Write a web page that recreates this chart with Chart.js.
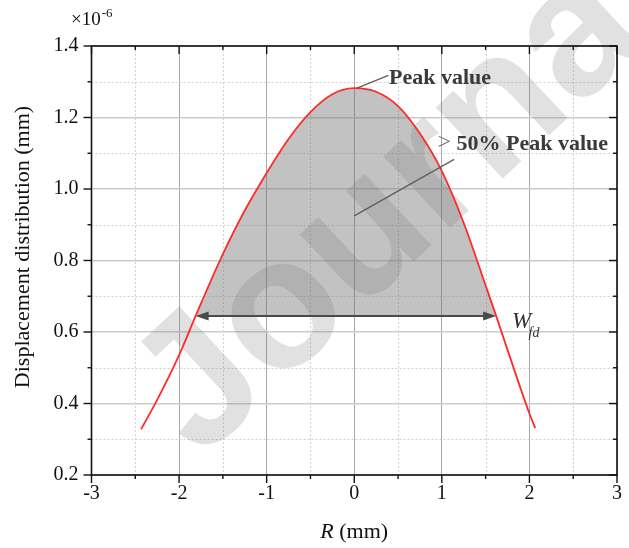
<!DOCTYPE html>
<html><head><meta charset="utf-8">
<script src="https://cdn.jsdelivr.net/npm/chart.js@4.4.0/dist/chart.umd.min.js"></script>
<style>html,body{margin:0;padding:0;background:#fff}#wrap{width:629px;height:548px;position:relative}</style>
</head><body><div id="wrap"><canvas id="c" width="629" height="548"></canvas></div>
<script>
// ---- data ----
const rValues      = [-2.434, -2.25, -2.0, -1.811, -1.75, -1.5, -1.25, -1.0, -0.75, -0.5, -0.25, 0.0, 0.25, 0.5, 0.75, 1.0, 1.25, 1.5, 1.62, 1.75, 2.0, 2.066];
const displacement = [0.328, 0.41, 0.535, 0.645, 0.68, 0.818, 0.94, 1.045, 1.14, 1.215, 1.265, 1.282, 1.272, 1.232, 1.155, 1.05, 0.905, 0.73, 0.645, 0.55, 0.372, 0.331];
const xTickLabels = [-3, -2, -1, 0, 1, 2, 3];
const yTickLabels = [0.2, 0.4, 0.6, 0.8, 1.0, 1.2, 1.4];
const peakR = 0.0, peakValue = 1.282;
const halfLevel = 0.645;
const halfLeftR = -1.811, halfRightR = 1.62;
const peakText = 'Peak value';
const halfText = '50% Peak value';
const widthText = 'W', widthSub = 'fd';
const xTitleItalic = 'R', xTitleRest = ' (mm)';
const yTitle = 'Displacement distribution (mm)';
const yUnitBase = '×10', yUnitExp = '-6';
const watermarkText = 'Journal Pre-proof';

const curve = rValues.map((r, i) => ({x: r, y: displacement[i]}));
const shaded = curve.filter(p => p.x >= halfLeftR - 1e-9 && p.x <= halfRightR + 1e-9);

const SERIF = '"Liberation Serif", "Times New Roman", serif';
const isMajorX = v => Math.abs(v - Math.round(v)) < 1e-6;
const isMajorY = v => Math.abs(Math.round(v * 10)) % 2 === 0;

const decor = {
  id: 'decor',
  beforeDatasetsDraw(chart) {
    const {ctx, chartArea: a, scales: {x, y}} = chart;
    ctx.save();
    // minor dotted grid
    ctx.strokeStyle = '#d0d0d0'; ctx.lineWidth = 1; ctx.setLineDash([2, 2]);
    x.ticks.forEach(t => { if (!isMajorX(t.value)) { const px = Math.round(x.getPixelForValue(t.value)) + 0.5; ctx.beginPath(); ctx.moveTo(px, a.top); ctx.lineTo(px, a.bottom); ctx.stroke(); } });
    y.ticks.forEach(t => { if (!isMajorY(t.value)) { const py = Math.round(y.getPixelForValue(t.value)) + 0.5; ctx.beginPath(); ctx.moveTo(a.left, py); ctx.lineTo(a.right, py); ctx.stroke(); } });
    ctx.setLineDash([]);
    // watermark
    const wo = {x: x.getPixelForValue(-1.76), y: y.getPixelForValue(0.24)};
    ctx.translate(wo.x, wo.y);
    ctx.rotate(-43 * Math.PI / 180);
    ctx.font = 'bold 185px "Liberation Sans", Arial, sans-serif';
    ctx.fillStyle = 'rgba(120,120,120,0.22)';
    ctx.textBaseline = 'alphabetic'; ctx.textAlign = 'left';
    ctx.fillText(watermarkText, 0, 0);
    ctx.restore();
  },
  afterDatasetsDraw(chart) {
    const {ctx, scales: {x, y}} = chart;
    ctx.save();
    // double arrow for W_fd
    const yl = y.getPixelForValue(halfLevel);
    const xl = x.getPixelForValue(halfLeftR), xr = x.getPixelForValue(halfRightR);
    ctx.strokeStyle = '#4a4a4a'; ctx.fillStyle = '#4a4a4a'; ctx.lineWidth = 2;
    ctx.beginPath(); ctx.moveTo(xl + 8, yl); ctx.lineTo(xr - 8, yl); ctx.stroke();
    ctx.beginPath(); ctx.moveTo(xl, yl); ctx.lineTo(xl + 13, yl - 4.5); ctx.lineTo(xl + 13, yl + 4.5); ctx.closePath(); ctx.fill();
    ctx.beginPath(); ctx.moveTo(xr, yl); ctx.lineTo(xr - 13, yl - 4.5); ctx.lineTo(xr - 13, yl + 4.5); ctx.closePath(); ctx.fill();
    // leader lines
    ctx.strokeStyle = '#606060'; ctx.lineWidth = 1.4;
    ctx.beginPath(); ctx.moveTo(x.getPixelForValue(peakR + 0.03), y.getPixelForValue(peakValue)); ctx.lineTo(x.getPixelForValue(0.39), y.getPixelForValue(1.318)); ctx.stroke();
    ctx.beginPath(); ctx.moveTo(x.getPixelForValue(1.14), y.getPixelForValue(1.083)); ctx.lineTo(x.getPixelForValue(0.0), y.getPixelForValue(0.925)); ctx.stroke();
    // texts
    ctx.fillStyle = '#3a3a3a'; ctx.textBaseline = 'alphabetic'; ctx.textAlign = 'left';
    ctx.font = 'bold 22px ' + SERIF;
    ctx.fillText(peakText, x.getPixelForValue(0.397), y.getPixelForValue(1.294));
    ctx.fillText(halfText, x.getPixelForValue(1.168), y.getPixelForValue(1.110));
    ctx.fillStyle = '#707070'; ctx.font = '24px ' + SERIF;
    ctx.fillText('>', x.getPixelForValue(0.95), y.getPixelForValue(1.112));
    ctx.fillStyle = '#333'; ctx.font = 'italic 23px ' + SERIF;
    ctx.fillText(widthText, x.getPixelForValue(1.80), y.getPixelForValue(0.612));
    ctx.font = 'italic 14px ' + SERIF;
    ctx.fillText(widthSub, x.getPixelForValue(1.99), y.getPixelForValue(0.585));
    ctx.restore();
  },
  afterDraw(chart) {
    const {ctx, chartArea: a, scales: {x, y}} = chart;
    ctx.save();
    ctx.strokeStyle = '#111'; ctx.lineWidth = 1.6;
    ctx.strokeRect(a.left, a.top, a.right - a.left, a.bottom - a.top);
    ctx.lineWidth = 1.4;
    x.ticks.forEach(t => {
      const px = x.getPixelForValue(t.value), L = isMajorX(t.value) ? 8 : 4;
      ctx.beginPath(); ctx.moveTo(px, a.bottom); ctx.lineTo(px, a.bottom + L); ctx.stroke();
      ctx.beginPath(); ctx.moveTo(px, a.top); ctx.lineTo(px, a.top + L); ctx.stroke();
    });
    y.ticks.forEach(t => {
      const py = y.getPixelForValue(t.value), L = isMajorY(t.value) ? 8 : 4;
      ctx.beginPath(); ctx.moveTo(a.left, py); ctx.lineTo(a.left - L, py); ctx.stroke();
      ctx.beginPath(); ctx.moveTo(a.right, py); ctx.lineTo(a.right - L, py); ctx.stroke();
    });
    // axis titles
    ctx.fillStyle = '#111'; ctx.textBaseline = 'alphabetic';
    ctx.font = 'italic 22px ' + SERIF;
    const w1 = ctx.measureText(xTitleItalic).width;
    ctx.font = '22px ' + SERIF;
    const w2 = ctx.measureText(xTitleRest).width;
    const cx = (a.left + a.right) / 2, sx = cx - (w1 + w2) / 2;
    ctx.textAlign = 'left';
    ctx.font = 'italic 22px ' + SERIF; ctx.fillText(xTitleItalic, sx, 538);
    ctx.font = '22px ' + SERIF; ctx.fillText(xTitleRest, sx + w1, 538);
    ctx.save();
    ctx.translate(29, 247); ctx.rotate(-Math.PI / 2);
    ctx.textAlign = 'center'; ctx.fillText(yTitle, 0, 0);
    ctx.restore();
    // unit multiplier
    ctx.font = '19px ' + SERIF; ctx.textAlign = 'left';
    ctx.fillText(yUnitBase, 71, 25);
    const wb = ctx.measureText(yUnitBase).width;
    ctx.font = '13px ' + SERIF;
    ctx.fillText(yUnitExp, 71 + wb + 1, 17);
    ctx.restore();
  }
};

new Chart(document.getElementById('c'), {
  type: 'line',
  data: {
    datasets: [
      { data: shaded, borderWidth: 0, borderColor: 'rgba(0,0,0,0)', backgroundColor: 'rgba(110,110,110,0.42)',
        fill: {value: halfLevel}, pointRadius: 0, cubicInterpolationMode: 'monotone', order: 2 },
      { data: curve, borderColor: '#ff2b2b', borderWidth: 1.8, fill: false, pointRadius: 0,
        cubicInterpolationMode: 'monotone', order: 1 }
    ]
  },
  options: {
    responsive: false, animation: false, devicePixelRatio: 1,
    layout: {padding: {left: 0, top: 46, right: 7, bottom: 0}},
    plugins: {legend: {display: false}, tooltip: {enabled: false}},
    scales: {
      x: {
        type: 'linear', min: -3, max: 3,
        afterFit: s => { s.height = 73; },
        afterBuildTicks: s => { const t = []; for (let v = -3; v <= 3 + 1e-9; v += 0.5) t.push({value: Math.round(v * 10) / 10}); s.ticks = t; },
        ticks: { padding: 7, color: '#111', maxRotation: 0, autoSkip: false,
          font: {family: SERIF, size: 20},
          callback: v => isMajorX(v) && xTickLabels.includes(Math.round(v)) ? String(Math.round(v)) : '' },
        grid: { drawTicks: false, color: c => (c.tick && isMajorX(c.tick.value)) ? '#a9a9a9' : 'rgba(0,0,0,0)', lineWidth: 1 },
        border: {display: false}
      },
      y: {
        type: 'linear', min: 0.2, max: 1.4,
        afterFit: s => { s.width = 91.5; },
        afterBuildTicks: s => { const t = []; for (let k = 2; k <= 14; k++) t.push({value: k / 10}); s.ticks = t; },
        ticks: { padding: 13, color: '#111', autoSkip: false,
          font: {family: SERIF, size: 20},
          callback: v => isMajorY(v) && yTickLabels.some(l => Math.abs(l - v) < 1e-6) ? v.toFixed(1) : '' },
        grid: { drawTicks: false, color: c => (c.tick && isMajorY(c.tick.value)) ? '#cbcbcb' : 'rgba(0,0,0,0)', lineWidth: 1.6 },
        border: {display: false}
      }
    }
  },
  plugins: [decor]
});
</script></body></html>
